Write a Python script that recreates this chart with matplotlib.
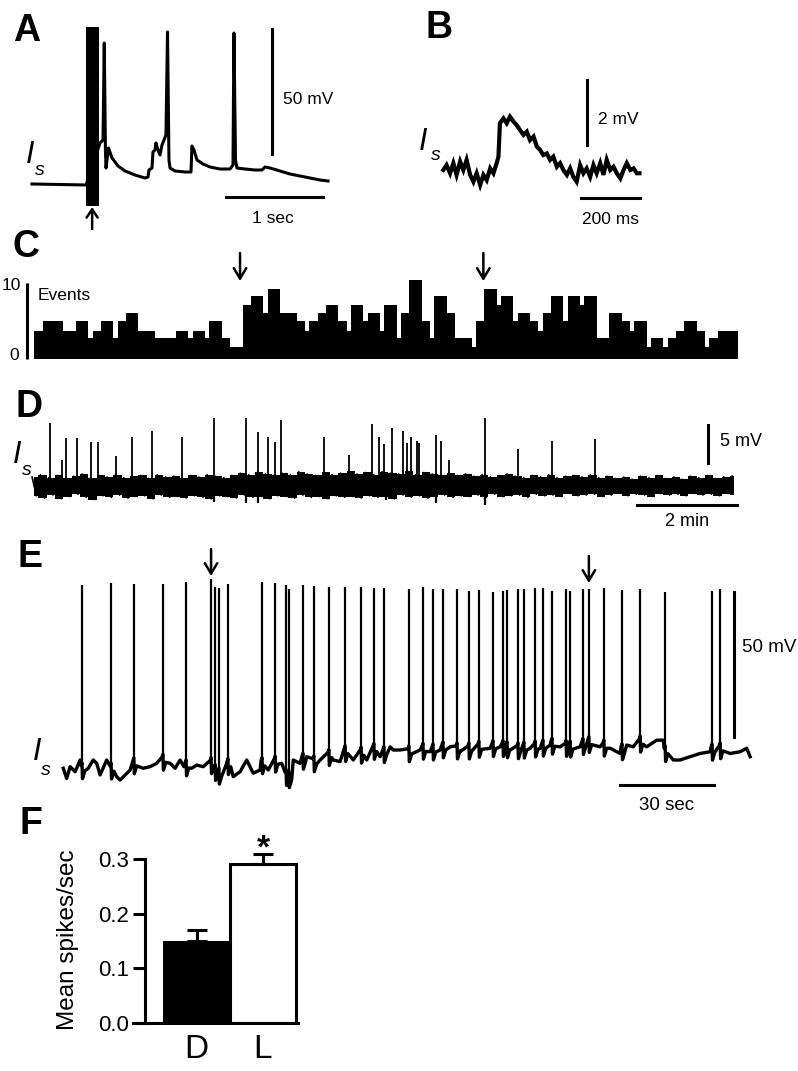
import numpy as np
import matplotlib
matplotlib.use("Agg")
import matplotlib.pyplot as plt
from matplotlib.patches import Rectangle

plt.rcParams['font.family'] = ['Liberation Sans', 'DejaVu Sans']

# ---------------- DATA ----------------
# Panel A: membrane potential (s, mV rel. rest)
a_t = [0.0, 0.289, 0.557, 0.701, 0.732, 0.745, 0.757, 0.763, 0.773, 0.789, 0.825, 0.887, 0.959,
       1.062, 1.165, 1.196, 1.206, 1.237, 1.247, 1.268, 1.278, 1.299, 1.320, 1.340, 1.361, 1.381,
       1.397, 1.412, 1.423, 1.474, 1.577, 1.639, 1.649, 1.670, 1.701, 1.763, 1.835, 1.938, 2.041,
       2.072, 2.082, 2.098, 2.113, 2.196, 2.299, 2.371, 2.402, 2.454, 2.557, 2.660, 2.763, 2.866,
       2.969, 3.052]
a_mv = [0.0, -0.2, -0.4, 16.4, 17.6, 56.4, 13.6, 6.4, 9.6, 14.4, 10.4, 7.2, 5.2,
        3.6, 2.4, 2.8, 5.6, 6.4, 12.8, 13.6, 16.4, 13.6, 11.6, 15.6, 17.6, 19.6,
        60.8, 9.6, 6.4, 5.2, 4.8, 4.8, 15.2, 13.6, 9.6, 8.0, 6.8, 6.0, 6.0,
        7.6, 60.4, 9.6, 6.4, 6.0, 5.6, 5.6, 6.8, 6.4, 5.2, 4.0, 3.2, 2.4,
        1.6, 1.2]
a_stim = (0.557, 0.691)          # stimulus artifact window (s)
a_stim_range = (-8.8, 62.8)      # artifact extent (mV)
a_stim_arrow_t = 0.62

# Panel B: single event (ms, mV)
b_t = [1, 12, 24, 35, 46, 58, 69, 80, 92, 103, 114, 126, 137, 148, 160, 171, 182, 188, 193, 205,
       216, 227, 239, 250, 261, 273, 284, 295, 307, 318, 329, 340, 352, 363, 374, 386, 397, 408,
       420, 431, 442, 453, 465, 476, 487, 499, 510, 521, 533, 544, 555, 567, 578, 589, 601, 612,
       623, 635, 646, 657, 666]
b_mv = [0.0, 0.15, -0.10, 0.21, -0.15, 0.26, 0.0, 0.31, -0.15, -0.36, -0.10, -0.46, -0.15, -0.31,
        0.05, -0.10, 0.21, 0.41, 1.44, 1.59, 1.44, 1.64, 1.49, 1.38, 1.23, 1.08, 1.18, 0.92, 1.03,
        0.72, 0.62, 0.46, 0.51, 0.31, 0.41, 0.10, 0.21, 0.0, -0.15, 0.05, -0.21, -0.36, 0.15, -0.10,
        0.05, -0.21, 0.15, -0.10, 0.21, -0.15, 0.31, 0.0, 0.10, -0.10, -0.26, 0.0, 0.21, 0.0, 0.05,
        -0.10, -0.10]

# Panel C: event histogram (bin start s, events)
c_start = [0, 10, 35, 50, 65, 70, 80, 95, 100, 110, 125, 145, 170, 185, 190, 205, 210, 225, 235,
           250, 260, 275, 280, 295, 315, 325, 330, 340, 350, 365, 375, 380, 395, 400, 415, 420,
           435, 440, 450, 465, 475, 480, 495, 505, 525, 530, 540, 555, 560, 575, 580, 595, 605,
           610, 620, 635, 640, 655, 660, 675, 690, 705, 715, 720, 735, 740, 755, 760, 770, 780,
           795, 805, 810, 820]
c_end = 845
c_count = [3.7, 5.0, 3.7, 5.0, 2.8, 3.7, 5.0, 2.8, 5.0, 6.1, 3.7, 2.8, 3.7, 2.8, 3.7, 2.8, 5.0,
           2.8, 1.6, 7.1, 8.3, 6.1, 9.3, 6.1, 5.0, 3.7, 5.0, 6.1, 7.1, 5.0, 3.7, 7.1, 5.0, 6.1,
           3.7, 7.1, 2.8, 6.1, 10.5, 5.0, 2.8, 8.3, 6.1, 2.8, 1.6, 5.0, 9.3, 7.1, 8.3, 5.0, 6.1,
           5.0, 3.7, 6.1, 8.3, 5.0, 8.3, 7.1, 8.3, 2.8, 6.1, 5.0, 3.7, 5.0, 1.6, 2.8, 1.6, 2.8,
           3.7, 5.0, 3.7, 1.6, 2.8, 3.7]
c_arrow_t = [247, 539]

# Panel D: long recording (s, mV)
d_band_t = list(range(0, 850, 10))
d_hi = [1.2, 1.5, 1.1, 1.4, 1.0, 1.3, 1.6, 1.1, 1.4, 1.2,
        1.5, 1.1, 1.3, 1.4, 1.0, 1.5, 1.2, 1.3, 1.1, 1.4,
        1.2, 1.5, 1.3, 1.1, 1.4, 1.7, 1.5, 1.8, 1.6, 1.4,
        1.7, 1.5, 1.9, 1.6, 1.4, 1.8, 1.5, 1.7, 2.0, 1.6,
        1.8, 1.5, 1.9, 1.7, 1.6, 2.0, 1.5, 1.8, 1.6, 1.4,
        1.7, 1.4, 1.6, 1.3, 1.5, 1.2, 1.4, 1.6, 1.3, 1.1,
        1.4, 1.2, 1.5, 1.1, 1.3, 1.4, 1.2, 1.5, 1.1, 1.3,
        1.0, 1.2, 0.9, 1.3, 1.1, 1.4, 1.0, 1.2, 0.9, 1.3,
        1.1, 1.4, 1.0, 1.2, 1.3]
d_lo = [-1.3, -1.6, -1.2, -1.7, -1.4, -1.1, -1.5, -1.8, -1.3, -1.5,
        -1.2, -1.6, -1.4, -1.3, -1.7, -1.2, -1.5, -1.4, -1.6, -1.3,
        -1.5, -1.7, -1.3, -1.4, -1.6, -1.2, -1.5, -1.4, -1.7, -1.3,
        -1.4, -1.6, -1.2, -1.5, -1.4, -1.7, -1.3, -1.5, -1.4, -1.6,
        -1.3, -1.5, -1.4, -1.7, -1.2, -1.5, -1.3, -1.6, -1.4, -1.2,
        -1.5, -1.3, -1.4, -1.2, -1.5, -1.1, -1.4, -1.3, -1.2, -1.5,
        -1.1, -1.3, -1.2, -1.4, -1.0, -1.3, -1.2, -1.1, -1.4, -1.2,
        -1.0, -1.3, -1.1, -1.2, -1.4, -1.0, -1.2, -1.1, -1.3, -1.0,
        -1.2, -1.1, -1.3, -1.0, -1.2]
d_spk_t = [19.0, 33.7, 38.2, 51.7, 68.2, 76.2, 97.8, 117.0, 141.7, 177.0, 215.8, 254.2, 268.2,
           280.9, 289.0, 295.8, 347.8, 378.1, 405.7, 413.8, 419.8, 429.0, 442.9, 447.0, 452.2,
           459.0, 461.8, 481.8, 488.2, 498.1, 541.0, 580.9, 621.7, 673.0]
d_spk_mv = [8.3, 3.5, 6.4, 6.3, 5.9, 5.9, 4.0, 6.5, 7.3, 6.5, 9.0, 9.0, 7.1,
            6.5, 5.8, 8.8, 6.5, 4.1, 8.2, 6.5, 5.6, 7.7, 7.3, 5.7, 6.5,
            6.0, 5.7, 6.8, 6.0, 3.4, 9.0, 4.9, 6.0, 6.2]
d_dip_t = [215.8, 254.2, 268.2, 422.0, 481.8, 541.0]
d_dip_mv = [-2.1, -2.3, -2.3, -1.9, -2.3, -2.5]

# Panel E: spiking recording (s, mV)
e_base_t = [0.4, 1.5, 2.6, 4.2, 5.8, 6.8, 8.4, 10.0, 11.1, 12.2, 14.3, 15.9, 17.5, 18.6, 20.2,
            21.8, 23.4, 23.9, 26.0, 28.2, 30.3, 32.2, 33.0, 34.6, 36.2, 37.8, 39.0, 41.5, 43.1,
            45.2, 47.4, 49.0, 50.6, 52.7, 54.8, 57.0, 59.1, 61.2, 63.4, 64.4, 66.0, 68.2, 70.3,
            71.7, 73.0, 74.0, 76.2, 78.3, 80.4, 82.6, 85.5, 86.8, 89.0, 91.1, 93.2, 95.4, 97.5,
            99.6, 101.8, 103.9, 105.0, 106.0, 108.2, 111.4, 114.6, 117.8, 121.0, 124.2, 127.4,
            130.6, 133.8, 137.0, 140.2, 143.4, 146.6, 149.8, 153.0, 156.2, 159.4, 162.6, 165.8,
            169.0, 172.2, 175.4, 178.6, 180.7, 182.8, 185.0, 187.1, 190.3, 192.4, 193.5, 195.6,
            197.8, 201.0, 204.2, 207.4, 210.6, 213.8, 217.0, 219.1, 220.2]
e_base_mv = [0.6, -2.9, 1.15, -0.6, 3.45, -2.3, 0.6, 3.45, 2.3, -1.7, 3.45, -0.6, -2.3, -3.45, -1.7,
             0.0, 2.3, -2.3, 0.6, 1.15, 2.3, 3.45, -0.6, 2.3, 0.6, 3.45, 1.15, 0.6, 1.7,
             1.15, 2.3, -0.6, -2.3, 2.3, -2.3, -0.6, 3.45, -1.1, 0.0, 2.9, 0.0, 2.3, 2.3,
             -2.3, -3.45, 3.45, 2.3, 4.6, 2.3, 3.45, 4.6, 3.45, 2.9, 6.9, 3.45, 5.7, 3.45,
             6.9, 4.6, 6.3, 8.0, 6.9, 6.9, 5.7, 6.9, 6.3, 6.9, 8.0, 6.3,
             6.9, 7.5, 7.5, 8.0, 6.9, 6.9, 7.5, 7.5, 8.6, 8.0, 7.5, 8.0,
             9.2, 8.0, 7.5, 5.7, 8.6, 8.0, 9.2, 8.0, 10.3, 10.3, 2.3, 3.45,
             3.45, 4.6, 5.7, 6.3, 6.9, 5.7, 6.3, 7.5, 4.6]
e_spk_t = [6.4, 15.7, 23.0, 32.3, 39.7, 47.7, 49.0, 50.2, 53.1, 64.0, 68.2, 71.7, 72.6, 77.1,
           80.6, 85.4, 90.6, 95.7, 99.8, 103.0, 111.0, 115.5, 118.7, 121.9, 126.4, 130.2, 133.4,
           137.9, 141.1, 142.4, 145.9, 147.8, 151.4, 153.9, 156.8, 161.3, 162.6, 166.7, 168.6,
           173.4, 179.2, 185.0, 193.0, 208.0, 210.6]
e_spk_mv = [63.8, 64.6, 64.2, 64.2, 65.0, 65.8, 63.2, 62.7, 64.1, 65.0, 64.6, 63.8, 62.4, 63.8,
            63.6, 63.2, 63.0, 63.0, 62.9, 62.7, 62.3, 63.0, 62.4, 62.4, 62.3, 61.9, 62.1,
            61.5, 61.9, 62.1, 62.3, 62.3, 62.7, 62.7, 61.9, 62.4, 61.9, 62.4, 62.4,
            62.7, 62.1, 62.4, 61.3, 61.9, 62.3]
e_arrow_t = [47.7, 168.6]

# Panel F: mean firing rate
f_groups = ['D', 'L']
f_mean = [0.15, 0.29]
f_sem = [0.02, 0.02]

# ---------------- FIGURE ----------------
W, H = 798, 1071
fig = plt.figure(figsize=(W / 100, H / 100), dpi=100)


def fx(x):
    return x / W


def fy(y):
    return 1 - y / H


def add_ax(x0, y0, x1, y1):
    ax = fig.add_axes([fx(x0), fy(y1), (x1 - x0) / W, (y1 - y0) / H])
    return ax


def ftext(x, y, s, **kw):
    fig.text(fx(x), fy(y), s, **kw)


def panel_letter(x, y, s):
    ftext(x, y, s, fontsize=27, fontweight='bold', ha='left', va='baseline')


def i_s(x, y, xs, ys):
    ftext(x, y, 'I', fontsize=22, style='italic', ha='left', va='baseline')
    ftext(xs, ys, 's', fontsize=14, style='italic', ha='left', va='baseline')


def down_arrow(ax, t, ytop, ybot):
    ax.annotate('', xy=(t, fy(ybot)), xycoords=('data', 'figure fraction'),
                xytext=(t, fy(ytop)), textcoords=('data', 'figure fraction'),
                arrowprops=dict(arrowstyle='->,head_length=0.75,head_width=0.45',
                                lw=1.8, color='k', mutation_scale=10, shrinkA=0, shrinkB=0))


LW = 2.2

# ---- Panel A ----
axA = add_ax(20, 20, 340, 215)
axA.set_xlim((20 - 32) / 97, (340 - 32) / 97)
axA.set_ylim((184 - 215) / 2.5, (184 - 20) / 2.5)
axA.set_axis_off()
axA.plot(a_t, a_mv, color='k', lw=LW, solid_joinstyle='round')
axA.add_patch(Rectangle((a_stim[0], a_stim_range[0]), a_stim[1] - a_stim[0],
                        a_stim_range[1] - a_stim_range[0], color='k', lw=0))
axA.plot([2.474, 2.474], [12, 62], color='k', lw=LW, clip_on=False)
axA.plot([2.0, 3.0], [-5.2, -5.2], color='k', lw=LW, clip_on=False)
ftext(283, 99, '50 mV', fontsize=12.5, ha='left', va='center')
ftext(273, 219, '1 sec', fontsize=12.5, ha='center', va='center')
axA.annotate('', xy=(a_stim_arrow_t, fy(207)), xycoords=('data', 'figure fraction'),
             xytext=(a_stim_arrow_t, fy(229)), textcoords=('data', 'figure fraction'),
             arrowprops=dict(arrowstyle='->,head_length=0.6,head_width=0.4',
                             lw=1.8, color='k', mutation_scale=10, shrinkA=0, shrinkB=0))
panel_letter(13, 41, 'A')
i_s(26, 163, 35, 175)

# ---- Panel B ----
axB = add_ax(430, 60, 660, 230)
axB.set_xlim((430 - 443) * 3.39, (660 - 443) * 3.39)
axB.set_ylim((170 - 230) / 32.5, (170 - 60) / 32.5)
axB.set_axis_off()
axB.plot(b_t, b_mv, color='k', lw=3.0, solid_joinstyle='miter')
axB.plot([488, 488], [0.77, 2.77], color='k', lw=LW, clip_on=False)
axB.plot([468, 668], [-0.86, -0.86], color='k', lw=LW, clip_on=False)
ftext(598, 119, '2 mV', fontsize=12.5, ha='left', va='center')
ftext(610, 220, '200 ms', fontsize=12.5, ha='center', va='center')
panel_letter(426, 38, 'B')
i_s(419, 150, 431, 160)

# ---- Panel C ----
axC = add_ax(20, 250, 745, 365)
axC.set_xlim((20 - 34.2) * 1.2, (745 - 34.2) * 1.2)
axC.set_ylim((359.3 - 365) / 7.6, (359.3 - 250) / 7.6)
axC.set_axis_off()
c_edges = c_start + [c_end]
c_width = np.diff(c_edges)
axC.bar(c_start, c_count, width=c_width, align='edge', color='k', lw=0)
axC.plot([-8.3, -8.3], [0, 10], color='k', lw=LW, solid_capstyle='butt')
ftext(21, 286, '10', fontsize=12.5, ha='right', va='center')
ftext(19, 356, '0', fontsize=12.5, ha='right', va='center')
ftext(38, 295, 'Events', fontsize=12.5, ha='left', va='center')
for t in c_arrow_t:
    down_arrow(axC, t, 253, 281)
panel_letter(12, 257, 'C')

# ---- Panel D ----
axD = add_ax(20, 395, 745, 530)
axD.set_xlim((20 - 34.2) * 1.2, (745 - 34.2) * 1.2)
axD.set_ylim((486 - 530) / 7.54, (486 - 395) / 7.54)
axD.set_axis_off()
axD.fill_between(d_band_t, d_lo, d_hi, step='mid', color='k', lw=0)
zz_t, zz_v = [], []
for t, h, l in zip(d_band_t, d_hi, d_lo):
    zz_t += [t - 2.5, t + 2.5]
    zz_v += [h, l]
axD.plot(zz_t[:-1], zz_v[:-1], color='k', lw=1.2)
for t, v in zip(d_spk_t, d_spk_mv):
    axD.plot([t, t], [0, v], color='k', lw=1.3, solid_capstyle='butt')
for t, v in zip(d_dip_t, d_dip_mv):
    axD.plot([t, t], [0, v], color='k', lw=1.6, solid_capstyle='butt')
axD.plot([809, 809], [3.05, 8.09], color='k', lw=LW, clip_on=False)
axD.plot([723, 843], [-2.52, -2.52], color='k', lw=LW, clip_on=False)
ftext(720, 442, '5 mV', fontsize=13, ha='left', va='center')
ftext(687, 522, '2 min', fontsize=13, ha='center', va='center')
panel_letter(15, 417, 'D')
i_s(13, 463, 22, 475)

# ---- Panel E ----
axE = add_ax(50, 540, 770, 800)
axE.set_xlim((50 - 62) * 0.32, (770 - 62) * 0.32)
axE.set_ylim((770 - 800) * 0.345, (770 - 540) * 0.345)
axE.set_axis_off()
bt = np.array(e_base_t)
bv = np.array(e_base_mv)
keep = np.ones(len(bt), bool)
for ts in e_spk_t:
    keep &= ~((bt > ts - 0.35) & (bt < ts + 1.0))
base_pts = list(zip(bt[keep], bv[keep]))
peak_pts = []
for ts, pk in zip(e_spk_t, e_spk_mv):
    b = float(np.interp(ts, e_base_t, e_base_mv))
    base_pts += [(ts - 0.3, b + 1.5), (ts, b + 2.5), (ts + 0.15, b - 3.0), (ts + 0.9, b - 0.3)]
    peak_pts.append((ts, b + 2.5, pk))
base_pts.sort()
et, ev = zip(*base_pts)
axE.plot(et, ev, color='k', lw=2.4, solid_joinstyle='round')
for ts, b0, pk in peak_pts:
    axE.plot([ts, ts], [b0, pk], color='k', lw=1.6, solid_capstyle='butt')
axE.plot([215.0, 215.0], [11.4, 61.4], color='k', lw=LW, clip_on=False)
axE.plot([178.6, 208.6], [-5.2, -5.2], color='k', lw=LW, clip_on=False)
ftext(742, 648, '50 mV', fontsize=13.5, ha='left', va='center')
ftext(667, 806, '30 sec', fontsize=13.5, ha='center', va='center')
down_arrow(axE, e_arrow_t[0], 549, 576)
down_arrow(axE, e_arrow_t[1], 556, 583)
panel_letter(17, 567, 'E')
i_s(33, 760, 41, 775)

# ---- Panel F ----
axF = add_ax(133, 859, 298, 1023)
x0 = 196.5
axF.set_xlim((133 - x0) / 66.5, (298 - x0) / 66.5)
axF.set_ylim(0, 0.3)
xpos = np.arange(len(f_groups))
axF.bar(xpos[0], f_mean[0], width=1.0, color='k', lw=0, zorder=2)
axF.bar(xpos[1], f_mean[1], width=1.0, facecolor='white', edgecolor='k', lw=LW, zorder=2)
axF.errorbar(xpos, f_mean, yerr=[[0, 0], f_sem], fmt='none', ecolor='k', elinewidth=LW,
             capsize=7, capthick=LW, clip_on=False, zorder=3)
for s in ['top', 'right']:
    axF.spines[s].set_visible(False)
axF.spines['left'].set_position(('data', (145 - x0) / 66.5))
axF.spines['left'].set_linewidth(LW)
axF.spines['bottom'].set_linewidth(LW)
axF.set_yticks([0.0, 0.1, 0.2, 0.3])
axF.set_yticklabels(['0.0', '0.1', '0.2', '0.3'])
axF.tick_params(axis='y', length=8.6, width=LW, labelsize=16, pad=3)
axF.set_xticks(xpos)
axF.set_xticklabels(f_groups)
axF.tick_params(axis='x', length=0, labelsize=24, pad=8)
axF.patch.set_alpha(0)
ftext(68, 940, 'Mean spikes/sec', fontsize=17.5, rotation=90, ha='center', va='center')
axF.annotate('*', xy=(xpos[1], fy(858)), xycoords=('data', 'figure fraction'),
             fontsize=24, fontweight='bold', ha='center', va='baseline')
panel_letter(20, 834, 'F')

fig.savefig('out.png', dpi=100)
